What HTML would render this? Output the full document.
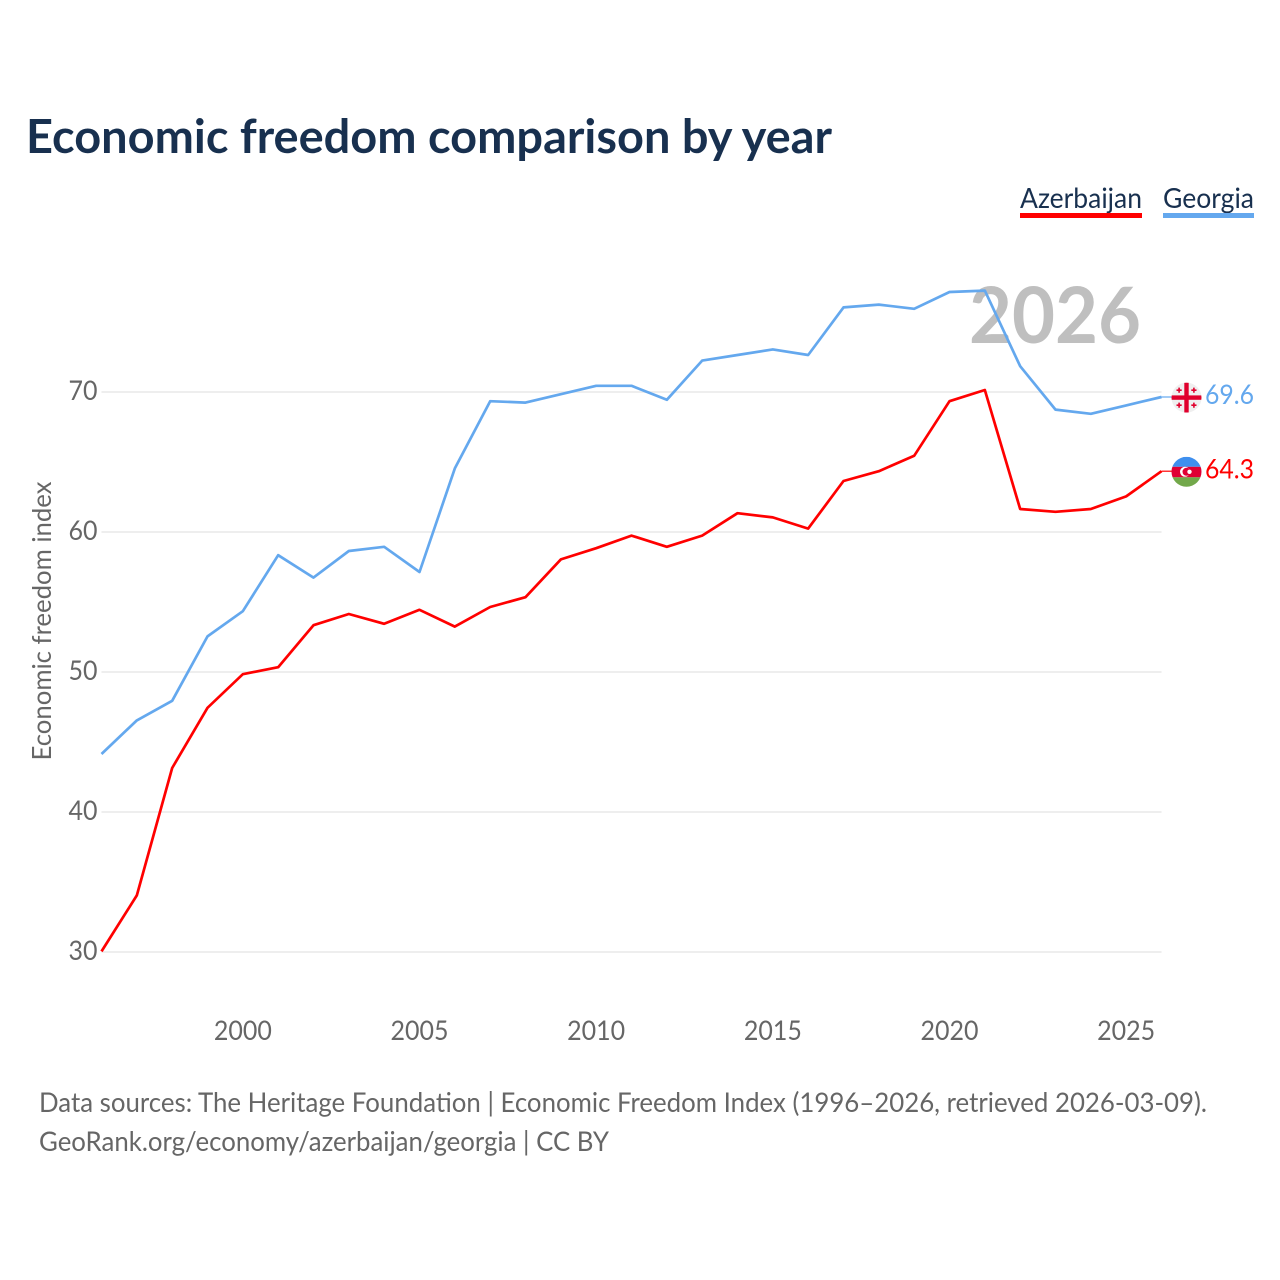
<!DOCTYPE html>
<html lang="en">
<head>
<meta charset="utf-8">
<title>Economic freedom comparison by year</title>
<style>
html,body{margin:0;padding:0;background:#fff;}
svg{display:block;}
text{font-family:"Lato","Carlito","Liberation Sans",sans-serif;}
</style>
</head>
<body>
<svg id="chart" width="1280" height="1280" viewBox="0 0 1280 1280" xmlns="http://www.w3.org/2000/svg">
  <rect width="1280" height="1280" fill="#fff"/>
  <text x="26" y="153" font-size="47" font-weight="700" fill="#18304f" textLength="806" lengthAdjust="spacingAndGlyphs">Economic freedom comparison by year</text>

  <g>
    <g>
      <text x="1020" y="208" font-size="28" fill="#18304f" textLength="122" lengthAdjust="spacingAndGlyphs">Azerbaijan</text>
      <rect x="1020" y="213" width="122" height="5" fill="#ff0000"/>
    </g>
    <g>
      <text x="1163" y="208" font-size="28" fill="#18304f" textLength="91" lengthAdjust="spacingAndGlyphs">Georgia</text>
      <rect x="1163" y="213" width="91" height="5" fill="#64a8ee"/>
    </g>
  </g>

  <g id="grid"></g>
  <text x="1141" y="343" text-anchor="end" font-size="78" font-weight="700" fill="#bfbfbf" textLength="172" lengthAdjust="spacingAndGlyphs">2026</text>
  <g id="yticks"></g>
  <g id="xticks"></g>
  <text transform="translate(51,621) rotate(-90)" text-anchor="middle" font-size="26" fill="#666" textLength="279" lengthAdjust="spacingAndGlyphs">Economic freedom index</text>

  <g id="series" transform="translate(0,-0.6)"></g>

  <g id="flag-georgia">
    <clipPath id="clip-ge"><circle cx="0" cy="0" r="15"/></clipPath>
    <g clip-path="url(#clip-ge)">
      <rect x="-15" y="-15" width="30" height="30" fill="#efefef"/>
      <rect x="-15" y="-2.2" width="30" height="4.4" fill="#e0002d"/>
      <rect x="-2.2" y="-15" width="4.4" height="30" fill="#e0002d"/>
      <path d="M-8.2-10h1.6v1.8h1.8v1.6h-1.8v1.8h-1.6v-1.8h-1.8v-1.6h1.8zM6.6-10h1.6v1.8h1.8v1.6h-1.8v1.8h-1.6v-1.8h-1.8v-1.6h1.8zM-8.2 5h1.6v1.8h1.8v1.6h-1.8v1.8h-1.6v-1.8h-1.8v-1.6h1.8zM6.6 5h1.6v1.8h1.8v1.6h-1.8v1.8h-1.6v-1.8h-1.8v-1.6h1.8z" fill="#e0002d"/>
    </g>
  </g>
  <g id="flag-azerbaijan">
    <clipPath id="clip-az"><circle cx="0" cy="0" r="15"/></clipPath>
    <g clip-path="url(#clip-az)">
      <rect x="-15" y="-15" width="30" height="10" fill="#3f8fee"/>
      <rect x="-15" y="-5" width="30" height="10.5" fill="#e00034"/>
      <rect x="-15" y="5.5" width="30" height="10" fill="#72a84a"/>
      <circle cx="-1.5" cy="0" r="5" fill="#fff"/>
      <circle cx="0" cy="0" r="4" fill="#e00034"/>
      <circle cx="3" cy="0" r="2.2" fill="#fff"/>
    </g>
  </g>
  <g id="endlabels"></g>

  <text x="39" y="1112" font-size="27" fill="#666" textLength="1168" lengthAdjust="spacingAndGlyphs">Data sources: The Heritage Foundation | Economic Freedom Index (1996–2026, retrieved 2026-03-09).</text>
  <text x="39" y="1151" font-size="27" fill="#666" textLength="570" lengthAdjust="spacingAndGlyphs">GeoRank.org/economy/azerbaijan/georgia | CC BY</text>
</svg>

<script>
const years = [1996,1997,1998,1999,2000,2001,2002,2003,2004,2005,2006,2007,2008,2009,2010,2011,2012,2013,2014,2015,2016,2017,2018,2019,2020,2021,2022,2023,2024,2025,2026];
const azerbaijanValues = [30.0,34.0,43.1,47.4,49.8,50.3,53.3,54.1,53.4,54.4,53.2,54.6,55.3,58.0,58.8,59.7,58.9,59.7,61.3,61.0,60.2,63.6,64.3,65.4,69.3,70.1,61.6,61.4,61.6,62.5,64.3];
const georgiaValues = [44.1,46.5,47.9,52.5,54.3,58.3,56.7,58.6,58.9,57.1,64.5,69.3,69.2,69.8,70.4,70.4,69.4,72.2,72.6,73.0,72.6,76.0,76.2,75.9,77.1,77.2,71.8,68.7,68.4,69.0,69.6];
const yTickValues = [30,40,50,60,70];
const xTickValues = [2000,2005,2010,2015,2020,2025];

const NS = 'http://www.w3.org/2000/svg';
const xScale = function (year) { return 101.5 + (year - 1996) * (1161.5 - 101.5) / 30; };
const yScale = function (value) { return 952 - (value - 30) * 14; };

function svgEl(tag, attrs, parent) {
  const el = document.createElementNS(NS, tag);
  Object.keys(attrs).forEach(function (k) { el.setAttribute(k, attrs[k]); });
  parent.appendChild(el);
  return el;
}

const gridGroup = document.getElementById('grid');
const yTickGroup = document.getElementById('yticks');
yTickValues.forEach(function (v) {
  const line = svgEl('line', {x1: 101.5, x2: 1161.5, y1: yScale(v), y2: yScale(v), stroke: '#eeeeee', 'stroke-width': 2}, gridGroup);
  
  
  const label = svgEl('text', {x: 97.5, y: yScale(v) + 8, 'text-anchor': 'end', 'font-size': 27, fill: '#666', textLength: 29, lengthAdjust: 'spacingAndGlyphs'}, yTickGroup);
  
  
  label.textContent = String(v);
});

const xTickGroup = document.getElementById('xticks');
xTickValues.forEach(function (y) {
  const label = svgEl('text', {x: xScale(y), y: 1040, 'text-anchor': 'middle', 'font-size': 27, fill: '#666', textLength: 58, lengthAdjust: 'spacingAndGlyphs'}, xTickGroup);
  
  
  label.textContent = String(y);
});

const seriesGroup = document.getElementById('series');
const endGroup = document.getElementById('endlabels');

function drawSeries(values, color, seriesName, flagId) {
  const pts = values.map(function (v, i) { return xScale(years[i]).toFixed(2) + ',' + yScale(v).toFixed(2); }).join(' ');
  const line = svgEl('polyline', {points: pts, fill: 'none', stroke: color, 'stroke-width': 2.7, 'stroke-linejoin': 'round'}, seriesGroup);
  
  

  const lastValue = values[values.length - 1];
  const lastX = xScale(years[years.length - 1]);
  const lastY = yScale(lastValue);

  const connector = svgEl('line', {x1: lastX, x2: lastX + 12, y1: lastY, y2: lastY, stroke: color, 'stroke-width': 1.2}, seriesGroup);
  
  

  document.getElementById(flagId).setAttribute('transform', 'translate(' + (lastX + 25) + ',' + lastY + ')');

  const label = svgEl('text', {x: 1254, y: lastY + 6.5, 'text-anchor': 'end', 'font-size': 27, fill: color, textLength: 49, lengthAdjust: 'spacingAndGlyphs'}, endGroup);
  
  
  label.textContent = lastValue.toFixed(1);
}

drawSeries(azerbaijanValues, '#ff0000', 'azerbaijan', 'flag-azerbaijan');
drawSeries(georgiaValues, '#64a8ee', 'georgia', 'flag-georgia');
</script>
</body>
</html>
